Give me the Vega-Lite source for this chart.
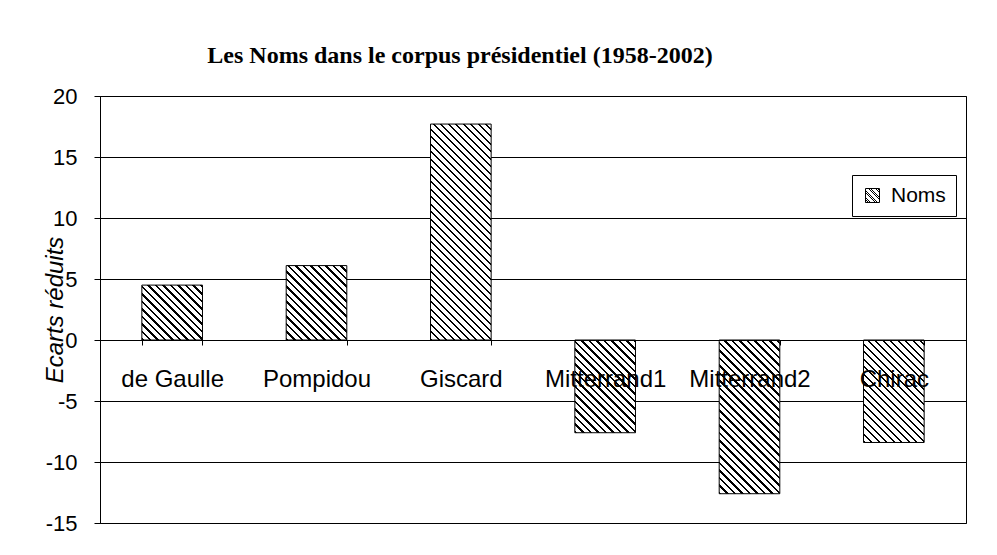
{
  "$schema": "https://vega.github.io/schema/vega-lite/v6.json",
  "width": 866,
  "height": 427,
  "autosize": {"type": "none"},
  "padding": {"left": 100, "top": 96, "right": 31, "bottom": 32},
  "background": "white",
  "params": [
    {"name": "hatch", "value": [
      {"offset":0,"color":"#000"},{"offset":0.008,"color":"#000"},{"offset":0.008,"color":"#fff"},{"offset":0.025,"color":"#fff"},
      {"offset":0.025,"color":"#000"},{"offset":0.033,"color":"#000"},{"offset":0.033,"color":"#fff"},{"offset":0.05,"color":"#fff"},
      {"offset":0.05,"color":"#000"},{"offset":0.058,"color":"#000"},{"offset":0.058,"color":"#fff"},{"offset":0.075,"color":"#fff"},
      {"offset":0.075,"color":"#000"},{"offset":0.083,"color":"#000"},{"offset":0.083,"color":"#fff"},{"offset":0.1,"color":"#fff"},
      {"offset":0.1,"color":"#000"},{"offset":0.108,"color":"#000"},{"offset":0.108,"color":"#fff"},{"offset":0.125,"color":"#fff"},
      {"offset":0.125,"color":"#000"},{"offset":0.133,"color":"#000"},{"offset":0.133,"color":"#fff"},{"offset":0.15,"color":"#fff"},
      {"offset":0.15,"color":"#000"},{"offset":0.158,"color":"#000"},{"offset":0.158,"color":"#fff"},{"offset":0.175,"color":"#fff"},
      {"offset":0.175,"color":"#000"},{"offset":0.183,"color":"#000"},{"offset":0.183,"color":"#fff"},{"offset":0.2,"color":"#fff"},
      {"offset":0.2,"color":"#000"},{"offset":0.208,"color":"#000"},{"offset":0.208,"color":"#fff"},{"offset":0.225,"color":"#fff"},
      {"offset":0.225,"color":"#000"},{"offset":0.233,"color":"#000"},{"offset":0.233,"color":"#fff"},{"offset":0.25,"color":"#fff"},
      {"offset":0.25,"color":"#000"},{"offset":0.258,"color":"#000"},{"offset":0.258,"color":"#fff"},{"offset":0.275,"color":"#fff"},
      {"offset":0.275,"color":"#000"},{"offset":0.283,"color":"#000"},{"offset":0.283,"color":"#fff"},{"offset":0.3,"color":"#fff"},
      {"offset":0.3,"color":"#000"},{"offset":0.308,"color":"#000"},{"offset":0.308,"color":"#fff"},{"offset":0.325,"color":"#fff"},
      {"offset":0.325,"color":"#000"},{"offset":0.333,"color":"#000"},{"offset":0.333,"color":"#fff"},{"offset":0.35,"color":"#fff"},
      {"offset":0.35,"color":"#000"},{"offset":0.358,"color":"#000"},{"offset":0.358,"color":"#fff"},{"offset":0.375,"color":"#fff"},
      {"offset":0.375,"color":"#000"},{"offset":0.383,"color":"#000"},{"offset":0.383,"color":"#fff"},{"offset":0.4,"color":"#fff"},
      {"offset":0.4,"color":"#000"},{"offset":0.408,"color":"#000"},{"offset":0.408,"color":"#fff"},{"offset":0.425,"color":"#fff"},
      {"offset":0.425,"color":"#000"},{"offset":0.433,"color":"#000"},{"offset":0.433,"color":"#fff"},{"offset":0.45,"color":"#fff"},
      {"offset":0.45,"color":"#000"},{"offset":0.458,"color":"#000"},{"offset":0.458,"color":"#fff"},{"offset":0.475,"color":"#fff"},
      {"offset":0.475,"color":"#000"},{"offset":0.483,"color":"#000"},{"offset":0.483,"color":"#fff"},{"offset":0.5,"color":"#fff"},
      {"offset":0.5,"color":"#000"},{"offset":0.508,"color":"#000"},{"offset":0.508,"color":"#fff"},{"offset":0.525,"color":"#fff"},
      {"offset":0.525,"color":"#000"},{"offset":0.533,"color":"#000"},{"offset":0.533,"color":"#fff"},{"offset":0.55,"color":"#fff"},
      {"offset":0.55,"color":"#000"},{"offset":0.558,"color":"#000"},{"offset":0.558,"color":"#fff"},{"offset":0.575,"color":"#fff"},
      {"offset":0.575,"color":"#000"},{"offset":0.583,"color":"#000"},{"offset":0.583,"color":"#fff"},{"offset":0.6,"color":"#fff"},
      {"offset":0.6,"color":"#000"},{"offset":0.608,"color":"#000"},{"offset":0.608,"color":"#fff"},{"offset":0.625,"color":"#fff"},
      {"offset":0.625,"color":"#000"},{"offset":0.633,"color":"#000"},{"offset":0.633,"color":"#fff"},{"offset":0.65,"color":"#fff"},
      {"offset":0.65,"color":"#000"},{"offset":0.658,"color":"#000"},{"offset":0.658,"color":"#fff"},{"offset":0.675,"color":"#fff"},
      {"offset":0.675,"color":"#000"},{"offset":0.683,"color":"#000"},{"offset":0.683,"color":"#fff"},{"offset":0.7,"color":"#fff"},
      {"offset":0.7,"color":"#000"},{"offset":0.708,"color":"#000"},{"offset":0.708,"color":"#fff"},{"offset":0.725,"color":"#fff"},
      {"offset":0.725,"color":"#000"},{"offset":0.733,"color":"#000"},{"offset":0.733,"color":"#fff"},{"offset":0.75,"color":"#fff"},
      {"offset":0.75,"color":"#000"},{"offset":0.758,"color":"#000"},{"offset":0.758,"color":"#fff"},{"offset":0.775,"color":"#fff"},
      {"offset":0.775,"color":"#000"},{"offset":0.783,"color":"#000"},{"offset":0.783,"color":"#fff"},{"offset":0.8,"color":"#fff"},
      {"offset":0.8,"color":"#000"},{"offset":0.808,"color":"#000"},{"offset":0.808,"color":"#fff"},{"offset":0.825,"color":"#fff"},
      {"offset":0.825,"color":"#000"},{"offset":0.833,"color":"#000"},{"offset":0.833,"color":"#fff"},{"offset":0.85,"color":"#fff"},
      {"offset":0.85,"color":"#000"},{"offset":0.858,"color":"#000"},{"offset":0.858,"color":"#fff"},{"offset":0.875,"color":"#fff"},
      {"offset":0.875,"color":"#000"},{"offset":0.883,"color":"#000"},{"offset":0.883,"color":"#fff"},{"offset":0.9,"color":"#fff"},
      {"offset":0.9,"color":"#000"},{"offset":0.908,"color":"#000"},{"offset":0.908,"color":"#fff"},{"offset":0.925,"color":"#fff"},
      {"offset":0.925,"color":"#000"},{"offset":0.933,"color":"#000"},{"offset":0.933,"color":"#fff"},{"offset":0.95,"color":"#fff"},
      {"offset":0.95,"color":"#000"},{"offset":0.958,"color":"#000"},{"offset":0.958,"color":"#fff"},{"offset":0.975,"color":"#fff"},
      {"offset":0.975,"color":"#000"},{"offset":0.983,"color":"#000"},{"offset":0.983,"color":"#fff"},{"offset":1,"color":"#fff"}
    ]}
  ],
  "title": {
    "text": "Les Noms dans le corpus présidentiel (1958-2002)",
    "font": "Liberation Serif",
    "fontSize": 24,
    "fontWeight": "bold",
    "color": "black",
    "anchor": "middle",
    "frame": "group",
    "baseline": "alphabetic",
    "offset": 33,
    "dx": -73,
    "dy": 35
  },
  "data": {
    "values": [
      {"president": "de Gaulle", "ecart": 4.5},
      {"president": "Pompidou", "ecart": 6.1},
      {"president": "Giscard", "ecart": 17.7},
      {"president": "Mitterrand1", "ecart": -7.6},
      {"president": "Mitterrand2", "ecart": -12.6},
      {"president": "Chirac", "ecart": -8.4}
    ]
  },
  "mark": {
    "type": "bar",
    "fill": {"expr": "{gradient:'linear',x1:0,y1:1,x2:bandwidth('x')*300/(pow(bandwidth('x'),2)+pow(scale('y',datum.ecart)-scale('y',0),2)),y2:1-abs(scale('y',datum.ecart)-scale('y',0))*300/(pow(bandwidth('x'),2)+pow(scale('y',datum.ecart)-scale('y',0),2)),stops:hatch}"},
    "strokeWidth": 1
  },
  "encoding": {
    "x": {
      "field": "president",
      "type": "nominal",
      "sort": null,
      "scale": {"paddingInner": 0.58, "paddingOuter": 0.29},
      "axis": {
        "title": null,
        "orient": "bottom",
        "offset": -183,
        "tickBand": "extent",
        "tickSize": 5,
        "tickColor": "black",
        "domainColor": "black",
        "labelFont": "Liberation Sans",
        "labelFontSize": 24,
        "labelColor": "black",
        "labelAngle": 0,
        "labelPadding": 22,
        "labelOverlap": false,
        "labelBound": false,
        "labelFlush": false,
        "grid": false,
        "zindex": 1
      }
    },
    "y": {
      "field": "ecart",
      "type": "quantitative",
      "scale": {"domain": [-15, 20], "nice": false, "zero": false},
      "axis": {
        "title": "Ecarts réduits",
        "values": [-15, -10, -5, 0, 5, 10, 15, 20],
        "labelExpr": "'' + datum.value",
        "grid": true,
        "gridColor": "black",
        "gridOpacity": 1,
        "gridWidth": 1,
        "domainColor": "black",
        "tickColor": "black",
        "tickSize": 6,
        "labelFont": "Liberation Sans",
        "labelFontSize": 22,
        "labelColor": "black",
        "labelPadding": 17,
        "titleFont": "Liberation Sans",
        "titleFontSize": 24,
        "titleFontStyle": "italic",
        "titleFontWeight": "normal",
        "titleColor": "black",
        "titleX": -38,
        "titleY": 213.5,
        "titleAngle": -90,
        "titleBaseline": "alphabetic",
        "titleAlign": "center",
        "zindex": 0
      }
    },
    "stroke": {
      "datum": "Noms",
      "type": "nominal",
      "scale": {"range": ["black"]},
      "legend": {
        "title": null,
        "orient": "none",
        "legendX": 752,
        "legendY": 79,
        "direction": "vertical",
        "strokeColor": "black",
        "fillColor": "white",
        "padding": 10,
        "symbolType": "square",
        "symbolSize": 196,
        "symbolStrokeColor": "black",
        "symbolStrokeWidth": 1,
        "symbolFillColor": {"expr": "{gradient:'linear',x1:0,y1:1,x2:10.714,y2:-9.714,stops:hatch}"},
        "labelFont": "Liberation Sans",
        "labelFontSize": 21,
        "labelColor": "black",
        "labelOffset": 8
      }
    }
  },
  "config": {
    "view": {"stroke": "black", "strokeWidth": 1}
  }
}
